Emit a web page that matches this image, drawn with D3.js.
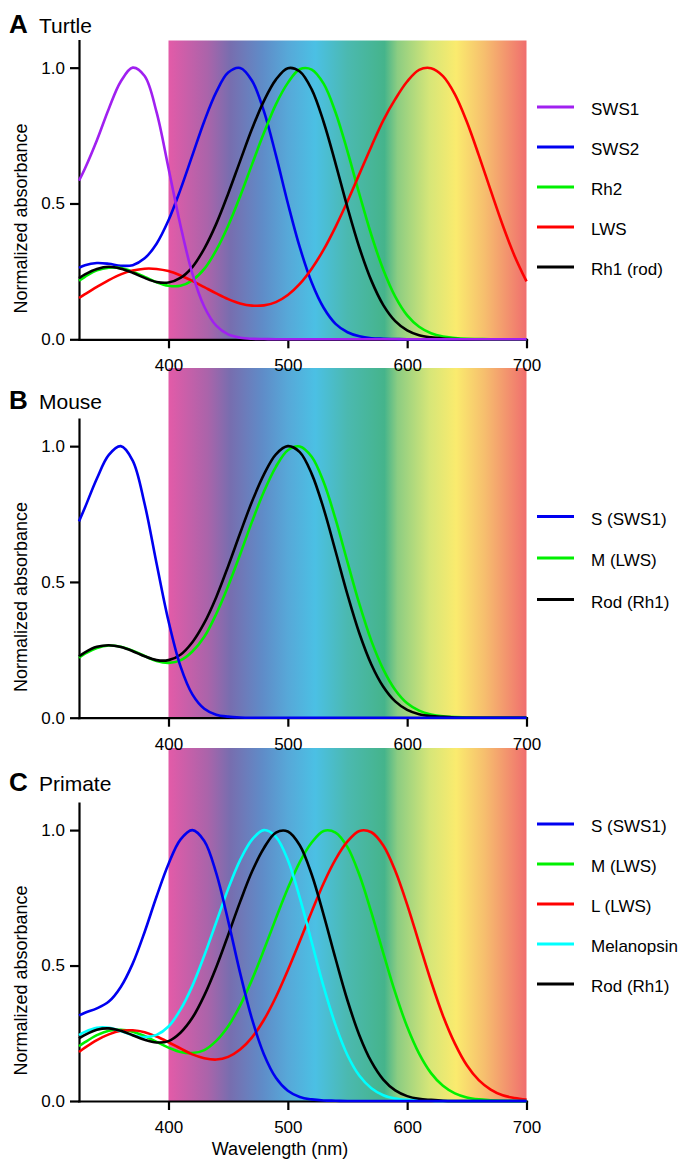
<!DOCTYPE html>
<html>
<head>
<meta charset="utf-8">
<script src="https://cdn.jsdelivr.net/npm/d3@7"></script>
<style>
body { margin: 0; background: #fff; }
svg text { font-family: "Liberation Sans", Arial, sans-serif; fill: #000; }
</style>
</head>
<body>
<svg id="chart" width="686" height="1160"></svg>
<script>
// wavelength samples (nm) shared by every curve
const wavelengths = [325, 330, 340, 350, 360, 370, 380, 390, 400, 410, 420, 430, 440, 450, 460, 470, 480, 490, 500,
    510, 520, 530, 540, 550, 560, 570, 580, 590, 600, 610, 620, 630, 640, 650, 660, 670, 680, 690, 700];

// A Turtle
const turtleSWS1 = [0.584, 0.629, 0.733, 0.849, 0.949, 1.0, 0.969, 0.836, 0.63, 0.42, 0.242, 0.12, 0.05, 0.018, 0.006, 0.002, 0.001, 0, 0,
    0, 0, 0, 0, 0, 0, 0, 0, 0, 0, 0, 0, 0, 0, 0, 0, 0, 0, 0, 0];
const turtleSWS2 = [0.263, 0.273, 0.281, 0.278, 0.271, 0.273, 0.298, 0.352, 0.438, 0.551, 0.677, 0.803, 0.91, 0.982, 0.999, 0.952, 0.839, 0.678, 0.501,
    0.339, 0.209, 0.116, 0.057, 0.026, 0.011, 0.004, 0.002, 0.001, 0, 0, 0, 0, 0, 0, 0, 0, 0, 0, 0];
const turtleRh2 = [0.216, 0.23, 0.254, 0.264, 0.262, 0.249, 0.23, 0.21, 0.197, 0.197, 0.217, 0.259, 0.328, 0.418, 0.526, 0.644, 0.76, 0.865, 0.944,
    0.994, 0.993, 0.941, 0.835, 0.692, 0.534, 0.384, 0.256, 0.157, 0.088, 0.046, 0.022, 0.01, 0.005, 0.002, 0.001, 0, 0, 0, 0];
const turtleLWS = [0.152, 0.166, 0.193, 0.218, 0.239, 0.253, 0.26, 0.259, 0.251, 0.235, 0.215, 0.192, 0.169, 0.148, 0.132, 0.124, 0.125, 0.137, 0.163,
    0.204, 0.26, 0.33, 0.414, 0.508, 0.609, 0.71, 0.806, 0.884, 0.949, 0.992, 0.998, 0.969, 0.902, 0.801, 0.678, 0.548, 0.421, 0.307, 0.213];
const turtleRh1 = [0.225, 0.239, 0.259, 0.267, 0.26, 0.245, 0.226, 0.211, 0.209, 0.226, 0.266, 0.334, 0.425, 0.536, 0.656, 0.775, 0.878, 0.956, 0.998,
    0.986, 0.92, 0.8, 0.647, 0.485, 0.337, 0.216, 0.126, 0.067, 0.033, 0.015, 0.007, 0.003, 0.001, 0, 0, 0, 0, 0, 0];

// B Mouse
const mouseS = [0.723, 0.774, 0.881, 0.968, 1.0, 0.947, 0.787, 0.568, 0.356, 0.19, 0.086, 0.033, 0.011, 0.004, 0.001, 0, 0, 0, 0,
    0, 0, 0, 0, 0, 0, 0, 0, 0, 0, 0, 0, 0, 0, 0, 0, 0, 0, 0, 0];
const mouseM = [0.221, 0.236, 0.257, 0.266, 0.261, 0.247, 0.227, 0.209, 0.202, 0.211, 0.244, 0.298, 0.382, 0.485, 0.601, 0.722, 0.833, 0.924, 0.985,
    0.999, 0.961, 0.868, 0.731, 0.573, 0.418, 0.283, 0.178, 0.102, 0.053, 0.026, 0.012, 0.005, 0.002, 0.001, 0, 0, 0, 0, 0];
const mouseRod = [0.226, 0.241, 0.261, 0.267, 0.26, 0.245, 0.226, 0.212, 0.212, 0.232, 0.278, 0.349, 0.444, 0.558, 0.679, 0.796, 0.896, 0.97, 1.0,
    0.978, 0.898, 0.77, 0.613, 0.453, 0.31, 0.196, 0.114, 0.06, 0.029, 0.013, 0.006, 0.003, 0.001, 0, 0, 0, 0, 0, 0];

// C Primate
const primateS = [0.316, 0.326, 0.342, 0.367, 0.421, 0.507, 0.624, 0.755, 0.875, 0.965, 1.0, 0.96, 0.841, 0.665, 0.473, 0.302, 0.172, 0.086, 0.038,
    0.015, 0.006, 0.002, 0.001, 0, 0, 0, 0, 0, 0, 0, 0, 0, 0, 0, 0, 0, 0, 0, 0];
const primateM = [0.202, 0.217, 0.243, 0.259, 0.263, 0.256, 0.24, 0.218, 0.197, 0.181, 0.177, 0.188, 0.222, 0.276, 0.352, 0.448, 0.558, 0.674, 0.785,
    0.882, 0.954, 0.997, 0.991, 0.937, 0.834, 0.696, 0.546, 0.4, 0.274, 0.175, 0.103, 0.056, 0.028, 0.013, 0.006, 0.003, 0.001, 0, 0];
const primateL = [0.181, 0.197, 0.225, 0.246, 0.259, 0.261, 0.254, 0.238, 0.217, 0.194, 0.172, 0.158, 0.153, 0.163, 0.19, 0.235, 0.3, 0.384, 0.483,
    0.59, 0.699, 0.804, 0.892, 0.958, 0.997, 0.992, 0.943, 0.85, 0.725, 0.583, 0.442, 0.315, 0.212, 0.132, 0.077, 0.042, 0.021, 0.011, 0.005];
const primateMel = [0.243, 0.255, 0.27, 0.27, 0.258, 0.243, 0.236, 0.244, 0.275, 0.337, 0.425, 0.537, 0.66, 0.783, 0.889, 0.965, 1.0, 0.975, 0.89,
    0.751, 0.587, 0.422, 0.28, 0.169, 0.093, 0.047, 0.021, 0.009, 0.004, 0.002, 0.001, 0, 0, 0, 0, 0, 0, 0, 0];
const primateRod = [0.231, 0.244, 0.263, 0.268, 0.259, 0.243, 0.226, 0.216, 0.221, 0.252, 0.307, 0.39, 0.494, 0.613, 0.735, 0.847, 0.934, 0.991, 0.995,
    0.944, 0.836, 0.687, 0.525, 0.371, 0.242, 0.145, 0.079, 0.039, 0.018, 0.008, 0.004, 0.001, 0, 0, 0, 0, 0, 0, 0];

const xTicks = [400, 500, 600, 700];
const yTicks = [0, 0.5, 1.0];

// colour of the visible spectrum behind the curves
const spectrumStops = [[400, "#e35ba8"], [433, "#aa64aa"], [452, "#776eaf"], [479, "#5f8cc8"], [500, "#57a8d8"],
    [523, "#4bc0e4"], [550, "#4bb9b0"], [581, "#45b48b"], [592, "#8ccd82"], [619, "#d7e678"], [641, "#faeb6e"],
    [665, "#f6be6e"], [700, "#f06e6e"]];

const panels = [
    {letter: "A", name: "Turtle", top: 40.5, bottom: 339.3, bandTop: 40.5, titleY: 33, legendTop: 107, legendStep: 40,
        series: [{label: "SWS1", values: turtleSWS1, color: "#a020f0"},
                 {label: "SWS2", values: turtleSWS2, color: "#0000f0"},
                 {label: "Rh2", values: turtleRh2, color: "#00f000"},
                 {label: "LWS", values: turtleLWS, color: "#ff0000"},
                 {label: "Rh1 (rod)", values: turtleRh1, color: "#000000"}]},
    {letter: "B", name: "Mouse", top: 419, bottom: 717.7, bandTop: 368, titleY: 409, legendTop: 516.5, legendStep: 41.5,
        series: [{label: "S (SWS1)", values: mouseS, color: "#0000f0"},
                 {label: "M (LWS)", values: mouseM, color: "#00f000"},
                 {label: "Rod (Rh1)", values: mouseRod, color: "#000000"}]},
    {letter: "C", name: "Primate", top: 803, bottom: 1101, bandTop: 748, titleY: 790.5, legendTop: 824, legendStep: 40,
        series: [{label: "S (SWS1)", values: primateS, color: "#0000f0"},
                 {label: "M (LWS)", values: primateM, color: "#00f000"},
                 {label: "L (LWS)", values: primateL, color: "#ff0000"},
                 {label: "Melanopsin", values: primateMel, color: "#00ffff"},
                 {label: "Rod (Rh1)", values: primateRod, color: "#000000"}]}
];

const svg = d3.select("#chart");
const x = d3.scaleLinear().domain([325, 700]).range([79, 526.5]);

let grad = svg.append("defs").append("linearGradient")
    .attr("id", "spectrum")
    .attr("gradientUnits", "userSpaceOnUse")
    .attr("x1", x(400)).attr("x2", x(700))
    .attr("y1", 0).attr("y2", 0);
grad.selectAll("stop")
    .data(spectrumStops)
    .enter()
    .append("stop")
    .attr("offset", d => (x(d[0]) - x(400)) / (x(700) - x(400)))
    .attr("stop-color", d => d[1]);

// bands go underneath everything, tick labels of the panel above sit on them
svg.append("g")
    .selectAll("rect")
    .data(panels)
    .enter()
    .append("rect")
    .attr("x", x(400))
    .attr("y", p => p.bandTop)
    .attr("width", x(700) - x(400))
    .attr("height", p => p.bottom - p.bandTop)
    .attr("fill", "url(#spectrum)");

function drawPanel(p, isLast) {
    let y = d3.scaleLinear().domain([0, 1.1]).range([p.bottom, p.top]);
    let g = svg.append("g");

    let xAxis = g.append("g")
        .attr("transform", `translate(0,${p.bottom})`)
        .call(d3.axisBottom(x).tickValues(xTicks).tickSize(9).tickPadding(11).tickSizeOuter(0));
    let yAxis = g.append("g")
        .attr("transform", `translate(${x(325)},0)`)
        .call(d3.axisLeft(y).tickValues(yTicks).tickFormat(d3.format(".1f")).tickSize(9).tickPadding(5).tickSizeOuter(0));
    for (const ax of [xAxis, yAxis]) {
        ax.attr("font-family", null).attr("font-size", 17);
        ax.select(".domain").attr("stroke-width", 2.2).attr("stroke-linecap", "square");
        ax.selectAll(".tick line").attr("stroke-width", 2.2);
    }

    let line = d3.line()
        .x((d, i) => x(wavelengths[i]))
        .y(d => y(d))
        .curve(d3.curveCatmullRom.alpha(0.5));

    // the short-wave pigment lies on top, its flat tail runs along the axis
    let order = p.series.slice(1).concat([p.series[0]]);
    g.selectAll("path.curve")
        .data(order)
        .enter()
        .append("path")
        .classed("curve", true)
        .attr("d", d => line(d.values))
        .attr("fill", "none")
        .attr("stroke", d => d.color)
        .attr("stroke-width", 2.6)
        .attr("stroke-linejoin", "round");

    let legend = g.selectAll("g.legend")
        .data(p.series)
        .enter()
        .append("g")
        .classed("legend", true)
        .attr("transform", (d, i) => `translate(0,${p.legendTop + i * p.legendStep})`);
    legend.append("line")
        .attr("x1", 537).attr("x2", 574)
        .attr("y1", 0).attr("y2", 0)
        .attr("stroke", d => d.color)
        .attr("stroke-width", 2.8);
    legend.append("text")
        .attr("x", 591)
        .attr("y", 8)
        .attr("font-size", 17)
        .text(d => d.label);

    let title = g.append("text").attr("x", 9).attr("y", p.titleY);
    title.append("tspan").attr("font-size", 26).attr("font-weight", "bold").text(p.letter);
    title.append("tspan").attr("x", 39).attr("font-size", 21).text(p.name);

    g.append("text")
        .attr("transform", `translate(26.5,${y(0.5) + 15}) rotate(-90)`)
        .attr("text-anchor", "middle")
        .attr("font-size", 18)
        .text("Normalized absorbance");

    if (isLast) {
        g.append("text")
            .attr("x", 280)
            .attr("y", 1155)
            .attr("text-anchor", "middle")
            .attr("font-size", 18)
            .text("Wavelength (nm)");
    }
}

panels.forEach((p, i) => drawPanel(p, i === panels.length - 1));
</script>
</body>
</html>
